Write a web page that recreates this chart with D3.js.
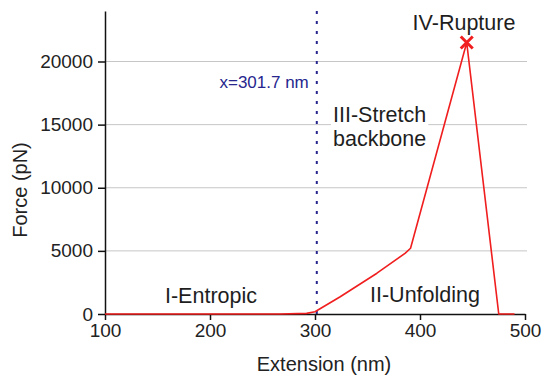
<!DOCTYPE html>
<html>
<head>
<meta charset="utf-8">
<script src="https://cdn.jsdelivr.net/npm/d3@7/dist/d3.min.js"></script>
<style>
  html, body { margin: 0; padding: 0; background: #fff; }
  svg { display: block; font-family: "Liberation Sans", Arial, sans-serif; }
</style>
</head>
<body>
<svg id="chart" width="544" height="375"></svg>
<script>
// Force–extension trace (nm, pN)
const extension = [100, 200, 267, 292, 300, 324, 359, 386, 391, 444.5, 475, 490];
const force     = [0, 0, 0, 50, 180, 1370, 3230, 4820, 5210, 21500, 0, 0];

const xTicks = [100, 200, 300, 400, 500];
const yTicks = [0, 5000, 10000, 15000, 20000];

const markerX = 301.7;           // vertical reference line
const rupture = { x: 444.5, y: 21500 };

const phaseLabels = [
  { lines: ["I-Entropic"], x: 211, y: 303, anchor: "middle" },
  { lines: ["II-Unfolding"], x: 425, y: 302, anchor: "middle" },
  { lines: ["III-Stretch", "backbone"], x: 333, y: 122, anchor: "start", bg: true },
  { lines: ["IV-Rupture"], x: 464, y: 30, anchor: "middle" }
];

const svg = d3.select("#chart");
const margin = { left: 105, right: 19, top: 11, bottom: 61 };
const W = 544, H = 375;

const x = d3.scaleLinear().domain([100, 500]).range([margin.left, W - margin.right]);
const y = d3.scaleLinear().domain([0, 24000]).range([H - margin.bottom, margin.top]);

// gridlines
svg.append("g")
  .selectAll("line")
  .data(yTicks.filter(d => d > 0))
  .join("line")
  .attr("x1", x(100)).attr("x2", x(500) + 2)
  .attr("y1", d => y(d)).attr("y2", d => y(d))
  .attr("stroke", "#c6c6c6").attr("stroke-width", 1);

// phase labels (with white backing where needed)
const labelG = svg.append("g").attr("fill", "#1e1e1e").attr("font-size", 21.5);
phaseLabels.forEach(p => {
  const t = labelG.append("text")
    .attr("x", p.x).attr("y", p.y)
    .attr("text-anchor", p.anchor);
  p.lines.forEach((s, i) => {
    t.append("tspan").attr("x", p.x).attr("dy", i === 0 ? 0 : 24).text(s);
  });
  if (p.bg) {
    const b = t.node().getBBox();
    labelG.insert("rect", () => t.node())
      .attr("x", b.x - 2).attr("y", b.y - 1)
      .attr("width", b.width + 4).attr("height", b.height + 2)
      .attr("fill", "#fff");
  }
});

// vertical reference line
svg.append("line")
  .attr("x1", x(markerX)).attr("x2", x(markerX))
  .attr("y1", y(24000)).attr("y2", y(0))
  .attr("stroke", "#26268e").attr("stroke-width", 2)
  .attr("stroke-dasharray", "3,7");

svg.append("text")
  .attr("x", x(markerX) - 8).attr("y", 88)
  .attr("text-anchor", "end")
  .attr("fill", "#26268e").attr("font-size", 17)
  .text("x=" + markerX + " nm");

// axes
const xAxis = svg.append("g")
  .attr("transform", `translate(0,${y(0)})`)
  .call(d3.axisBottom(x).tickValues(xTicks).tickFormat(d3.format("d"))
    .tickSize(6).tickPadding(4).tickSizeOuter(0));
const yAxis = svg.append("g")
  .attr("transform", `translate(${x(100)},0)`)
  .call(d3.axisLeft(y).tickValues(yTicks).tickFormat(d3.format("d"))
    .tickSize(7).tickPadding(5).tickSizeOuter(0));

[xAxis, yAxis].forEach(g => {
  g.select(".domain").attr("stroke", "#111").attr("stroke-width", 1.5);
  g.selectAll(".tick line").attr("stroke", "#111").attr("stroke-width", 1.5);
  g.selectAll(".tick text").attr("fill", "#222").attr("font-size", 19)
    .attr("font-family", "Liberation Sans, Arial, sans-serif");
});

// trace
const pts = extension.map((e, i) => [e, force[i]]);
svg.append("path")
  .datum(pts)
  .attr("fill", "none")
  .attr("stroke", "#f01e1e").attr("stroke-width", 1.6)
  .attr("stroke-linejoin", "round")
  .attr("d", d3.line().x(d => x(d[0])).y(d => y(d[1])));

// rupture marker
const rx = x(rupture.x), ry = y(rupture.y), s = 6;
svg.append("path")
  .attr("d", `M${rx - s},${ry - s}L${rx + s},${ry + s}M${rx - s},${ry + s}L${rx + s},${ry - s}`)
  .attr("stroke", "#f01e1e").attr("stroke-width", 3).attr("fill", "none");

// axis titles
svg.append("text")
  .attr("x", 324).attr("y", 371)
  .attr("text-anchor", "middle").attr("fill", "#222").attr("font-size", 20)
  .text("Extension (nm)");
svg.append("text")
  .attr("transform", "translate(27,190) rotate(-90)")
  .attr("text-anchor", "middle").attr("fill", "#222").attr("font-size", 20)
  .text("Force (pN)");
</script>
</body>
</html>
